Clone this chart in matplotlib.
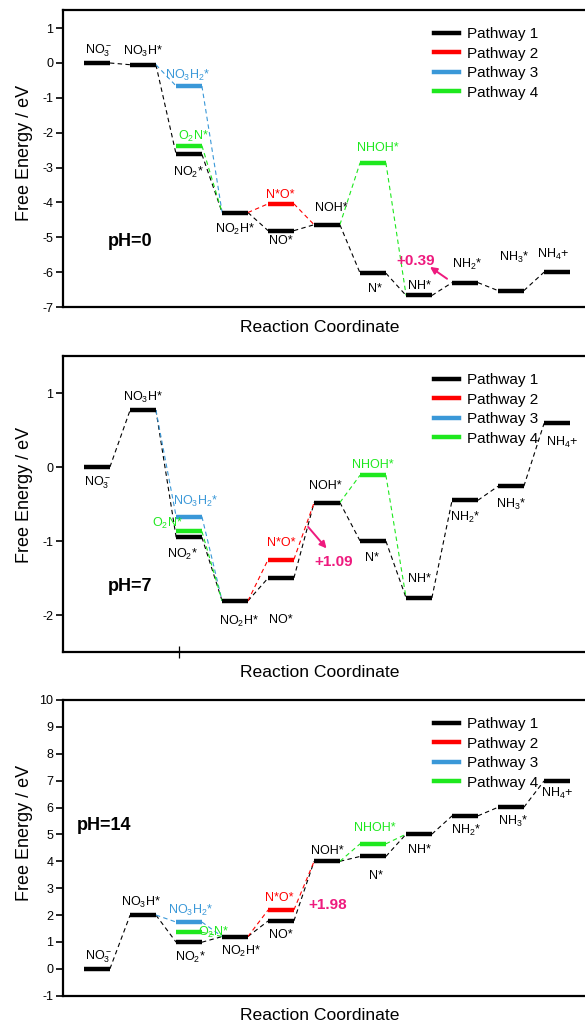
import matplotlib
matplotlib.use('Agg')
import matplotlib.pyplot as plt
from matplotlib.lines import Line2D

plt.rcParams['font.family'] = ['Liberation Sans', 'DejaVu Sans']
plt.rcParams['mathtext.fontset'] = 'custom'
plt.rcParams['mathtext.rm'] = 'Liberation Sans'
plt.rcParams['mathtext.it'] = 'Liberation Sans:italic'
plt.rcParams['mathtext.bf'] = 'Liberation Sans:bold'
plt.rcParams['axes.unicode_minus'] = False

# ---------------- data ----------------
steps = list(range(11))
main_names = ['NO$_3^-$', 'NO$_3$H*', 'NO$_2$*', 'NO$_2$H*', 'NO*', 'NOH*',
              'N*', 'NH*', 'NH$_2$*', 'NH$_3$*', 'NH$_4$+']
branch_names = ['NO$_3$H$_2$*', 'O$_2$N*', 'N*O*', 'NHOH*']
branch_steps = [2, 2, 4, 6]

pH_labels = ['pH=0', 'pH=7', 'pH=14']

main_pH0 = [0.0, -0.05, -2.62, -4.29, -4.81, -4.64, -6.03, -6.67, -6.30, -6.53, -6.00]
branch_pH0 = [-0.66, -2.37, -4.04, -2.86]
main_pH7 = [0.0, 0.77, -0.95, -1.81, -1.50, -0.48, -1.00, -1.77, -0.45, -0.26, 0.59]
branch_pH7 = [-0.67, -0.87, -1.25, -0.11]
main_pH14 = [0.0, 2.00, 0.99, 1.20, 1.78, 4.00, 4.18, 5.01, 5.69, 6.01, 6.99]
branch_pH14 = [1.74, 1.36, 2.19, 4.65]

limiting_text = ['+0.39', '+1.09', '+1.98']

pathway_names = ['Pathway 1', 'Pathway 2', 'Pathway 3', 'Pathway 4']

# ---------------- styles ----------------
C_BLACK = '#000000'
C_RED = '#FF0000'
C_BLUE = '#3A98D8'
C_GREEN = '#1EE81E'
C_MAG = '#EE1A7E'
pathway_colors = [C_BLACK, C_RED, C_BLUE, C_GREEN]
branch_colors = [C_BLUE, C_GREEN, C_RED, C_GREEN]
HW = 0.28  # half width of level bars (x units)

# label offsets in pixels (dx, dy), positive dy = up
main_off = [
    [(1, 12), (0, 13), (-1, -18), (0, -17), (0, -10), (4, 17), (2, -16), (0, 9), (2, 18), (3, 33), (-4, 18)],
    [(0, -16), (0, 13), (-7, -17), (4, -21), (0, -42), (-2, 17), (-1, -17), (0, 19), (0, -17), (0, -18), (5, -19)],
    [(1, 12), (-2, 13), (1, -15), (6, -15), (0, -14), (0, 10), (3, -20), (0, -16), (1, -15), (2, -14), (0, -13)],
]
branch_off = [
    [(-1, 11), (4, 9), (-1, 9), (5, 15)],
    [(7, 15), (-22, 8), (0, 16), (0, 10)],
    [(2, 12), (24, 0), (-2, 12), (2, 16)],
]
ylims = [(-7, 1.52), (-2.5, 1.5), (-1, 10)]
yticks = [list(range(-7, 2)), list(range(-2, 2)), list(range(-1, 11))]
ax_rects = [
    (63 / 585, 1 - 307 / 1028, 528 / 585, 297 / 1028),
    (63 / 585, 1 - 652 / 1028, 528 / 585, 296 / 1028),
    (63 / 585, 1 - 995.7 / 1028, 528 / 585, 295.7 / 1028),
]
ylabel_y = [0.52, 0.53, 0.552]
ph_pos = [(0.24, -5.13), (0.24, -1.62), (-0.43, 5.35)]
annot_text_pos = [(6.93, -5.67), (5.15, -1.29), (5.01, 2.38)]
annot_arrows = [((7.61, -6.19), (7.24, -5.85)), ((4.59, -0.81), (4.99, -1.10)), None]

fig = plt.figure(figsize=(5.85, 10.28), dpi=100)

all_main = [main_pH0, main_pH7, main_pH14]
all_branch = [branch_pH0, branch_pH7, branch_pH14]


def connect(ax, x0, y0, x1, y1, color):
    ax.plot([x0 + HW, x1 - HW], [y0, y1], color=color, lw=0.8,
            dashes=(4, 3), zorder=2)


for p in range(3):
    ax = fig.add_axes(ax_rects[p])
    m = all_main[p]
    b = all_branch[p]
    # connectors
    for i in range(len(steps) - 1):
        connect(ax, steps[i], m[i], steps[i + 1], m[i + 1], C_BLACK)
    # pathway 3 (blue): NO3H* -> NO3H2* -> NO2H*
    connect(ax, steps[1], m[1], branch_steps[0], b[0], C_BLUE)
    connect(ax, branch_steps[0], b[0], steps[3], m[3], C_BLUE)
    # pathway 4 (green): O2N* -> NO2H*, NOH* -> NHOH* -> NH*
    connect(ax, branch_steps[1], b[1], steps[3], m[3], C_GREEN)
    connect(ax, steps[5], m[5], branch_steps[3], b[3], C_GREEN)
    connect(ax, branch_steps[3], b[3], steps[7], m[7], C_GREEN)
    # pathway 2 (red): NO2H* -> N*O* -> NOH*
    connect(ax, steps[3], m[3], branch_steps[2], b[2], C_RED)
    connect(ax, branch_steps[2], b[2], steps[5], m[5], C_RED)

    # level bars
    ax.hlines(m, [s - HW for s in steps], [s + HW for s in steps],
              colors=C_BLACK, lw=3.2, zorder=4)
    ax.hlines(b, [s - HW for s in branch_steps], [s + HW for s in branch_steps],
              colors=branch_colors, lw=3.2, zorder=3)

    # labels
    for i, name in enumerate(main_names):
        ax.annotate(name, xy=(steps[i], m[i]), xytext=main_off[p][i],
                    textcoords='offset pixels', ha='center', va='center',
                    fontsize=9, color=C_BLACK, zorder=5)
    for i, name in enumerate(branch_names):
        ax.annotate(name, xy=(branch_steps[i], b[i]), xytext=branch_off[p][i],
                    textcoords='offset pixels', ha='center', va='center',
                    fontsize=9, color=branch_colors[i], zorder=5)

    # pH label
    ax.text(ph_pos[p][0], ph_pos[p][1], pH_labels[p], fontsize=13,
            fontweight='bold', ha='left', va='center')

    # limiting step annotation
    tx, ty = annot_text_pos[p]
    ax.text(tx, ty, limiting_text[p], color=C_MAG, fontsize=11,
            fontweight='bold', ha='center', va='center', zorder=6)
    if annot_arrows[p] is not None:
        (x0, y0), (x1, y1) = annot_arrows[p]
        ax.annotate('', xy=(x1, y1), xytext=(x0, y0),
                    arrowprops=dict(arrowstyle='-|>', color=C_MAG, lw=1.4,
                                    mutation_scale=10, shrinkA=0, shrinkB=0),
                    zorder=6)

    # axes
    ax.set_xlim(-0.74, 10.74)
    ax.set_ylim(*ylims[p])
    ax.set_yticks(yticks[p])
    ax.tick_params(axis='y', direction='out', length=5, width=1.2,
                   labelsize=9, pad=2)
    if p == 1:
        ax.set_xticks([1.78])
        ax.set_xticklabels([''])
        ax.tick_params(axis='x', direction='inout', length=8, width=0.9)
    else:
        ax.set_xticks([])
    for sp in ax.spines.values():
        sp.set_linewidth(1.6)

    ax.set_xlabel('Reaction Coordinate', fontsize=12.6)
    ax.xaxis.set_label_coords(0.487, -0.068)
    ax.xaxis.label.set_va('center')
    ax.set_ylabel('Free Energy / eV', fontsize=13)
    ax.yaxis.set_label_coords(-0.073, ylabel_y[p])
    ax.yaxis.label.set_va('center')

    handles = [Line2D([0], [0], color=c, lw=3.2) for c in pathway_colors]
    ax.legend(handles, pathway_names, loc='upper left',
              bbox_to_anchor=(0.7027, 0.942), frameon=False, fontsize=11,
              handlelength=1.65, handletextpad=0.5, labelspacing=0.36,
              borderpad=0, borderaxespad=0)

fig.savefig('out.png', dpi=100)
